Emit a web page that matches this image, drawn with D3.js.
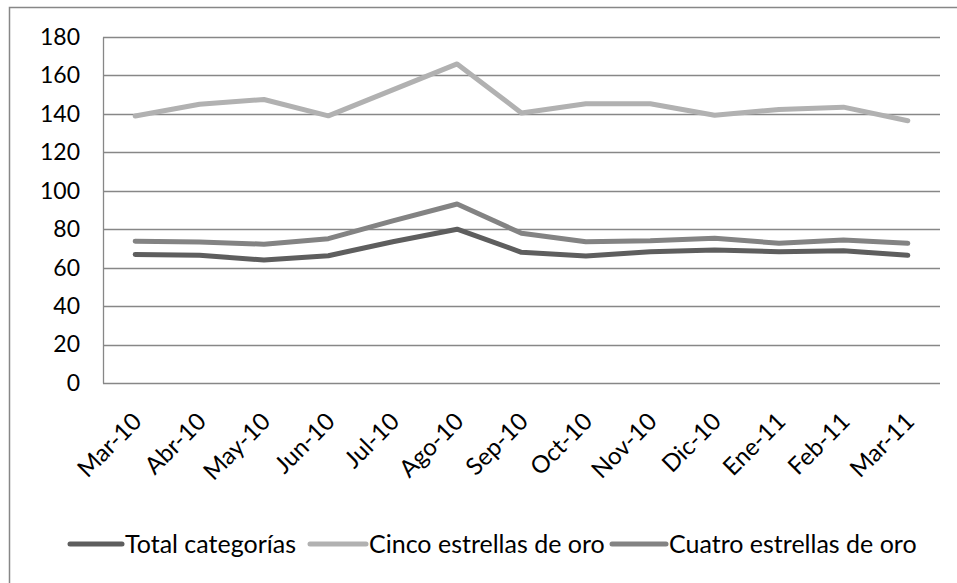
<!DOCTYPE html>
<html>
<head>
<meta charset="utf-8">
<script src="https://cdn.jsdelivr.net/npm/d3@7"></script>
<style>
  html, body { margin: 0; padding: 0; background: #fff; }
  svg { display: block; }
  text { font-family: Lato, "Noto Sans", sans-serif; fill: #000; }
</style>
</head>
<body>
<svg id="chart" width="957" height="583"></svg>
<script>
// Monthly categories (Mar-10 .. Mar-11)
const months = ["Mar-10", "Abr-10", "May-10", "Jun-10", "Jul-10", "Ago-10", "Sep-10",
                "Oct-10", "Nov-10", "Dic-10", "Ene-11", "Feb-11", "Mar-11"];

// Series values
const totalCategorias = [66.8, 66.4, 64.0, 66.2, 73.5, 80.0, 68.0, 66.1, 68.3, 69.2, 68.3, 68.8, 66.4];
const cincoEstrellas  = [138.9, 145.0, 147.5, 139.0, 152.5, 166.0, 140.5, 145.3, 145.3, 139.3, 142.3, 143.5, 136.4];
const cuatroEstrellas = [73.8, 73.4, 72.2, 75.1, 84.3, 93.1, 77.9, 73.5, 74.0, 75.3, 72.7, 74.4, 72.7];

// Axis ticks
const yTicks = [0, 20, 40, 60, 80, 100, 120, 140, 160, 180];

const seriesNames  = ["Total categorías", "Cinco estrellas de oro", "Cuatro estrellas de oro"];
const seriesValues = [totalCategorias, cincoEstrellas, cuatroEstrellas];
const seriesColors = ["#5e5e5e", "#b1b1b1", "#838383"];

const svg = d3.select("#chart");
const plot = { left: 103, right: 940, top: 37, bottom: 383 };
const gridColor = "#878787";

// Outer chart frame (only the top and left edges fall inside the view)
svg.append("path")
  .attr("d", "M9.5,590 L9.5,7.5 L965,7.5")
  .attr("fill", "none")
  .attr("stroke", gridColor)
  .attr("stroke-width", 1.5);

const x = d3.scaleBand().domain(months).range([plot.left, plot.right]);
const y = d3.scaleLinear().domain([0, 180]).range([plot.bottom, plot.top]);

// Horizontal gridlines
svg.append("g")
  .selectAll("line")
  .data(yTicks)
  .join("line")
  .attr("x1", plot.left)
  .attr("x2", plot.right)
  .attr("y1", d => Math.round(y(d)) + 0.5)
  .attr("y2", d => Math.round(y(d)) + 0.5)
  .attr("stroke", gridColor)
  .attr("stroke-width", 1.3);

// Vertical axis line
svg.append("line")
  .attr("x1", plot.left + 0.5).attr("x2", plot.left + 0.5)
  .attr("y1", Math.round(y(180)) + 0.5).attr("y2", Math.round(y(0)) + 0.5)
  .attr("stroke", gridColor)
  .attr("stroke-width", 1.3);

// Y axis labels
const yAxis = d3.axisLeft(y).tickValues(yTicks).tickSize(0).tickPadding(23);
const gy = svg.append("g").attr("transform", `translate(${plot.left},0)`).call(yAxis);
gy.select(".domain").remove();
gy.selectAll("text")
  .attr("font-family", "Lato, 'Noto Sans', sans-serif")
  .attr("font-size", 23)
  .attr("fill", "#000");

// X axis labels, rotated
const xAxis = d3.axisBottom(x).tickSize(0).tickPadding(0);
const gx = svg.append("g").attr("transform", `translate(0,${plot.bottom})`).call(xAxis);
gx.select(".domain").remove();
gx.selectAll("text")
  .attr("font-family", "Lato, 'Noto Sans', sans-serif")
  .attr("font-size", 24)
  .attr("fill", "#000")
  .attr("text-anchor", "end")
  .attr("y", 0)
  .attr("dy", 0)
  .attr("transform", "translate(8,40) rotate(-45)");

// Series lines
const line = d3.line()
  .x((d, i) => x(months[i]) + x.bandwidth() / 2)
  .y(d => y(d));

svg.append("g")
  .selectAll("path")
  .data(seriesValues)
  .join("path")
  .attr("d", d => line(d))
  .attr("fill", "none")
  .attr("stroke", (d, i) => seriesColors[i])
  .attr("stroke-width", 5)
  .attr("stroke-linejoin", "round")
  .attr("stroke-linecap", "round");

// Legend
const legendItems = [
  { x1: 70, x2: 122, tx: 125 },
  { x1: 310, x2: 366, tx: 369 },
  { x1: 612, x2: 666, tx: 669 }
];
const legendY = 544;
const lg = svg.append("g");
legendItems.forEach((it, i) => {
  lg.append("line")
    .attr("x1", it.x1).attr("x2", it.x2)
    .attr("y1", legendY).attr("y2", legendY)
    .attr("stroke", seriesColors[i])
    .attr("stroke-width", 5)
    .attr("stroke-linecap", "round");
  lg.append("text")
    .attr("x", it.tx)
    .attr("y", legendY + 9)
    .attr("font-size", 25)
    .text(seriesNames[i]);
});
</script>
</body>
</html>
